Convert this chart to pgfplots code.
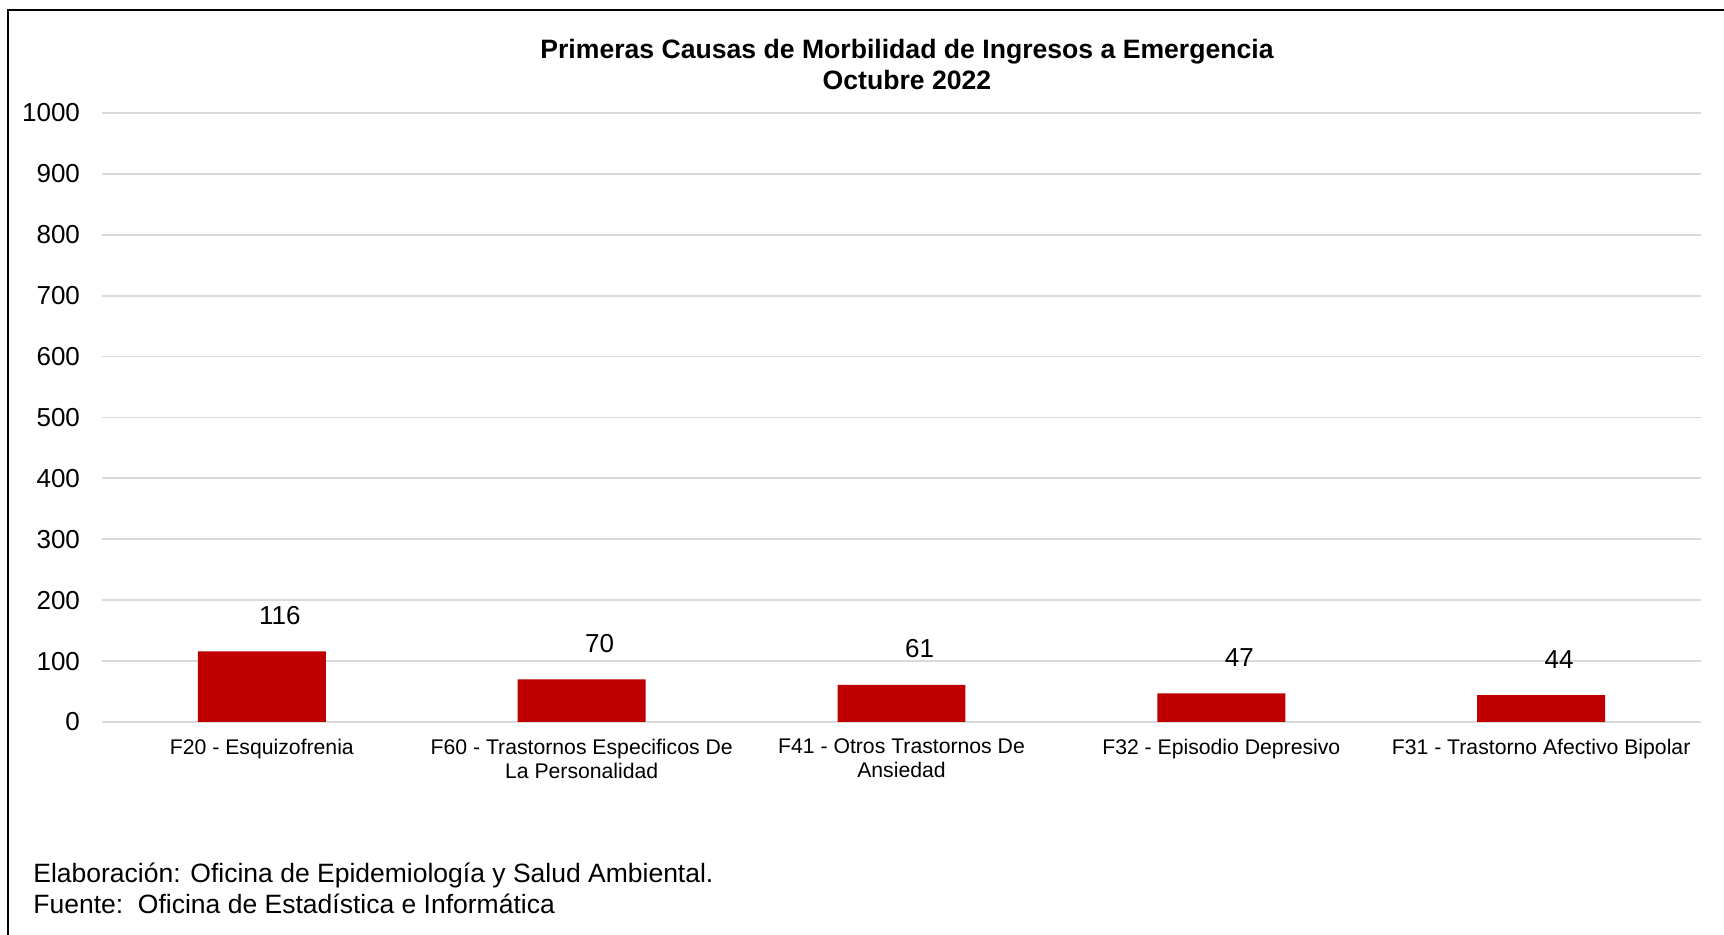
\documentclass[border=0pt]{standalone}
\usepackage{fontspec}
\setmainfont{Liberation Sans}
\usepackage{pgfplots}
\pgfplotsset{compat=1.18}
\definecolor{barred}{HTML}{C00000}
\definecolor{gridgray}{HTML}{D9D9D9}
\begin{document}
\begin{tikzpicture}
\useasboundingbox (0,0) rectangle (862pt,467.5pt);
\draw[line width=1pt] (4pt,0) -- (4pt,462.5pt) -- (862pt,462.5pt);
\node[anchor=base, font=\bfseries\fontsize{13.3}{15}\selectfont] at (453.5pt,438pt) {Primeras Causas de Morbilidad de Ingresos a Emergencia};
\node[anchor=base, font=\bfseries\fontsize{13.3}{15}\selectfont] at (453.5pt,422.75pt) {Octubre 2022};
\begin{axis}[
  at={(51pt,106.5pt)}, anchor=south west,
  scale only axis, width=799.5pt, height=304.5pt,
  xmin=-0.5, xmax=4.5, ymin=0, ymax=1000,
  ytick={0,100,...,1000},
  xtick=data,
  xticklabels={F20 - Esquizofrenia, {F60 - Trastornos Especificos De\\La Personalidad}, {F41 - Otros Trastornos De\\Ansiedad}, F32 - Episodio Depresivo, F31 - Trastorno Afectivo Bipolar},
  axis line style={draw=none},
  major tick length=0pt,
  ymajorgrids,
  grid style={gridgray, line width=0.9pt},
  /pgf/number format/assume math mode=true,
  /pgf/number format/1000 sep={},
  yticklabel style={font=\fontsize{13}{15}\selectfont, xshift=-7.5pt},
  xticklabel style={font=\fontsize{10.6}{12}\selectfont, align=center, yshift=-5pt},
  ybar, bar width=0.4,
  nodes near coords,
  every node near coord/.append style={font=\fontsize{13}{15}\selectfont, anchor=center, xshift=9pt, yshift=18pt, black},
]
\addplot[fill=barred, draw=none] coordinates {(0,116) (1,70) (2,61) (3,47) (4,44)};
\end{axis}
\node[anchor=base west, inner sep=0pt, font=\fontsize{13.25}{15}\selectfont] at (16.5pt,26.25pt) {Elaboración: Oficina de Epidemiología y Salud Ambiental.};
\node[anchor=base west, inner sep=0pt, font=\fontsize{13.25}{15}\selectfont] at (16.5pt,10.75pt) {Fuente:\ \ Oficina de Estadística e Informática};
\end{tikzpicture}
\end{document}
